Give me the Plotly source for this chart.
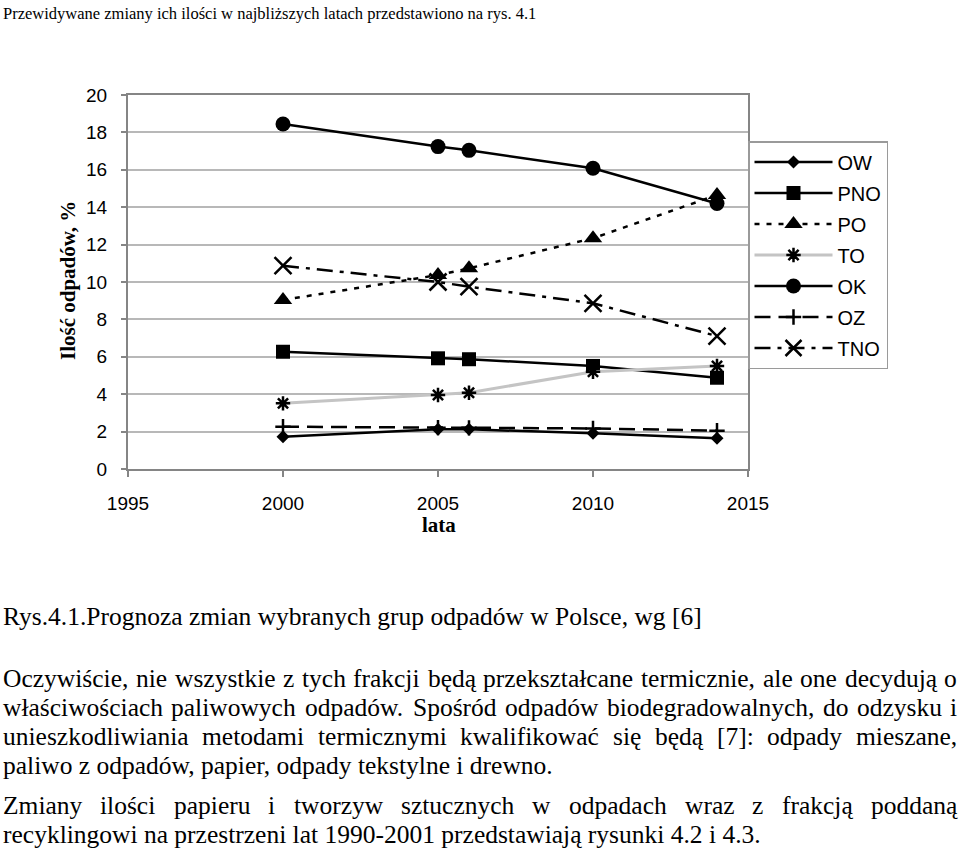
import plotly.graph_objects as go

W, H = 959, 865

# ---------------- data ----------------
years = [2000, 2005, 2006, 2010, 2014]
series_names = ["OW", "PNO", "PO", "TO", "OK", "OZ", "TNO"]
OW = [1.73, 2.12, 2.12, 1.91, 1.64]
PNO = [6.27, 5.92, 5.87, 5.51, 4.88]
PO = [9.04, 10.37, 10.73, 12.34, 14.65]
TO = [3.51, 3.96, 4.08, 5.20, 5.51]
OK = [18.45, 17.24, 17.04, 16.08, 14.20]
OZ = [2.26, 2.21, 2.20, 2.17, 2.05]
TNO = [10.87, 10.00, 9.75, 8.86, 7.11]
x_ticks = [1995, 2000, 2005, 2010, 2015]
y_ticks = [0, 2, 4, 6, 8, 10, 12, 14, 16, 18, 20]

top_text = "Przewidywane zmiany ich ilości w najbliższych latach przedstawiono na rys. 4.1"
caption = "Rys.4.1.Prognoza zmian wybranych grup odpadów w Polsce, wg [6]"
body_lines = [
    ("Oczywiście, nie wszystkie z tych frakcji będą przekształcane termicznie, ale one decydują o", True),
    ("właściwościach paliwowych odpadów. Spośród odpadów biodegradowalnych, do odzysku i", True),
    ("unieszkodliwiania metodami termicznymi kwalifikować się będą [7]: odpady mieszane,", True),
    ("paliwo z odpadów, papier, odpady tekstylne i drewno.", False),
    ("Zmiany ilości papieru i tworzyw sztucznych w odpadach wraz z frakcją poddaną", True),
    ("recyklingowi na przestrzeni lat 1990-2001 przedstawiają rysunki 4.2 i 4.3.", False),
]

# ---------------- styles ----------------
styles = {
    "OW": dict(symbol="diamond", size=10, dash="solid", lcolor="black", lwidth=2.5),
    "PNO": dict(symbol="square", size=14, dash="solid", lcolor="black", lwidth=2.5),
    "PO": dict(symbol="triangle-up", size=16, dash="5px,7px", lcolor="black", lwidth=2.5),
    "TO": dict(symbol="asterisk-open", size=12, dash="solid", lcolor="#c4c4c4", lwidth=3),
    "OK": dict(symbol="circle", size=15, dash="solid", lcolor="black", lwidth=2.5),
    "OZ": dict(symbol="cross-thin-open", size=11, dash="16px,8px", lcolor="black", lwidth=2.5),
    "TNO": dict(symbol="x-thin-open", size=17, dash="16px,7px,4px,7px", lcolor="black", lwidth=2.5),
}
values = {"OW": OW, "PNO": PNO, "PO": PO, "TO": TO, "OK": OK, "OZ": OZ, "TNO": TNO}

fig = go.Figure()
for name in series_names:
    s = styles[name]
    open_sym = s["symbol"].endswith("open")
    fig.add_trace(go.Scatter(
        x=years, y=values[name], name=name, mode="lines+markers",
        legendgroup=name,
        line=dict(color=s["lcolor"], width=s["lwidth"], dash=s["dash"]),
        marker=dict(symbol=s["symbol"], size=s["size"], color="black",
                    line=dict(color="black", width=2.5 if open_sym else 0)),
    ))

# plot area in pixels
px_l, px_r, py_t, py_b = 128, 748, 95, 469

fig.update_layout(
    width=W, height=H, autosize=False,
    margin=dict(l=0, r=0, t=0, b=0, autoexpand=False),
    paper_bgcolor="white", plot_bgcolor="white",
    showlegend=True,
    legend=dict(
        x=px_r / W, y=1 - 141 / H, xanchor="left", yanchor="top",
        bgcolor="white", bordercolor="#9a9a9a", borderwidth=1.5,
        font=dict(family="Liberation Sans, Arial", size=20, color="black"),
        tracegroupgap=2, itemwidth=78, entrywidth=138,
    ),
    xaxis=dict(
        domain=[px_l / W, px_r / W], range=[1995, 2015], automargin=False,
        tickmode="array", tickvals=x_ticks, ticktext=[str(t) for t in x_ticks],
        showgrid=False, zeroline=False,
        showline=True, linecolor="#858585", linewidth=2, mirror=True,
        ticks="outside", ticklen=6, tickcolor="#858585", tickwidth=1.5,
        ticklabelstandoff=10,
        tickfont=dict(family="Liberation Sans, Arial", size=19, color="black"),
    ),
    yaxis=dict(
        domain=[1 - py_b / H, 1 - py_t / H], range=[0, 20], automargin=False,
        tickmode="array", tickvals=y_ticks,
        showgrid=True, gridcolor="#b8b8b8", gridwidth=1.5, zeroline=False,
        showline=True, linecolor="#858585", linewidth=2, mirror=True,
        ticks="outside", ticklen=5, tickcolor="#858585", tickwidth=1.5,
        ticklabelstandoff=10,
        tickfont=dict(family="Liberation Sans, Arial", size=19, color="black"),
    ),
)

annotations = []


def add_text(txt, px, py, size, anchor="left", bold=False, angle=0, family="Liberation Serif, Times New Roman"):
    annotations.append(dict(
        text=f"<b>{txt}</b>" if bold else txt,
        x=px / W, y=1 - py / H, xref="paper", yref="paper",
        xanchor=anchor, yanchor="middle", showarrow=False, textangle=angle,
        font=dict(family=family, size=size, color="black"),
        borderpad=0,
    ))


# axis titles
add_text("Ilość odpadów, %", 68, 281, 21, anchor="center", bold=True, angle=-90)
add_text("lata", 439, 525, 21, anchor="center", bold=True)

# Times/Liberation Serif advance widths (per 1000 em) for justification
tw = {" ": 250, ",": 250, "-": 333, ".": 250, ":": 278, "[": 333, "]": 333,
      "O": 722, "Z": 611, "S": 556, "R": 667, "P": 556}
for d in "0123456789":
    tw[d] = 500
lower = dict(a=444, b=500, c=444, d=500, e=444, f=333, g=500, h=500, i=278, j=278,
             k=500, l=278, m=778, n=500, o=500, p=500, q=500, r=333, s=389, t=278,
             u=500, v=500, w=722, x=500, y=500, z=444)
tw.update(lower)
tw.update({"ą": 444, "ć": 444, "ę": 444, "ł": 278, "ń": 500, "ó": 500, "ś": 389, "ź": 444, "ż": 444})


def text_width(s, size):
    return sum(tw.get(ch, 500) for ch in s) * size / 1000.0


body_size = 25.5
x_left, x_right = 2, 956
body_y = [678, 707, 736, 765, 805, 834]
for (line, justify), yy in zip(body_lines, body_y):
    if not justify:
        add_text(line, x_left, yy, body_size)
        continue
    words = line.split(" ")
    widths = [text_width(w_, body_size) for w_ in words]
    gap = (x_right - x_left - sum(widths)) / (len(words) - 1)
    xx = x_left
    for w_, wd in zip(words, widths):
        add_text(w_, xx, yy, body_size)
        xx += wd + gap

add_text(top_text, 2, 14, 16.5)
add_text(caption, 2, 616, body_size)

fig.update_layout(annotations=annotations)
fig.write_html("out.html")
